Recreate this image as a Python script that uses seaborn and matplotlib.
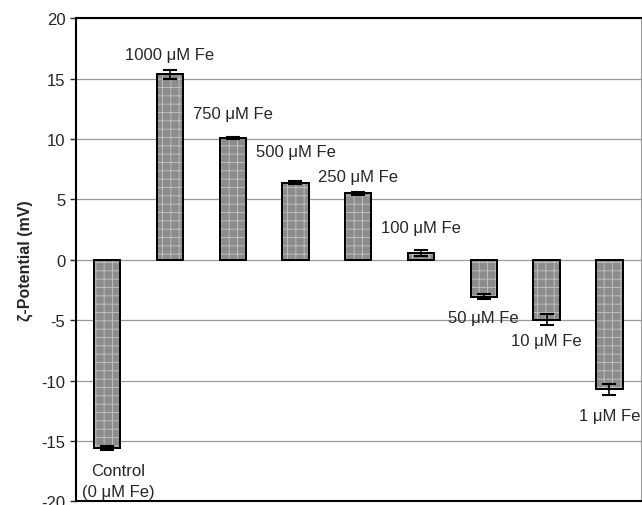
import pandas as pd
import numpy as np
import matplotlib.pyplot as plt
from matplotlib.patches import Rectangle
import seaborn as sns

sns.set_style("white")
plt.rcParams['font.family'] = ['Liberation Sans', 'DejaVu Sans']
plt.rcParams['axes.unicode_minus'] = False
plt.rcParams['hatch.linewidth'] = 0.7

# Data
conditions = ['Control', '1000', '750', '500', '250', '100', '50', '10', '1']
zeta = [-15.6, 15.35, 10.1, 6.4, 5.5, 0.55, -3.05, -4.95, -10.7]
zeta_err = [0.15, 0.35, 0.1, 0.1, 0.1, 0.25, 0.2, 0.45, 0.45]
bar_labels = ['Control\n(0 \u03bcM Fe)', '1000 \u03bcM Fe', '750 \u03bcM Fe', '500 \u03bcM Fe',
              '250 \u03bcM Fe', '100 \u03bcM Fe', '50 \u03bcM Fe', '10 \u03bcM Fe', '1 \u03bcM Fe']

# label placement (data units), set by hand to follow the original
label_dx = [0.18, 0.0, 0.0, 0.0, 0.0, 0.0, 0.0, 0.0, 0.0]
label_y = [-18.3, 17.0, 12.1, 9.0, 6.9, 2.7, -4.8, -6.7, -12.9]

df = pd.DataFrame({'condition': conditions, 'zeta': zeta})

fig = plt.figure(figsize=(6.42, 5.06), dpi=100)
ax = fig.add_axes([0.118, 0.007, 0.880, 0.955])

ax.yaxis.grid(True, color='#9a9a9a', linewidth=0.9)
ax.set_axisbelow(True)

sns.barplot(data=df, x='condition', y='zeta', order=conditions, color='#8c8c8c',
            saturation=1, width=0.42, edgecolor='black', linewidth=1.4, ax=ax)

# light stipple texture on top of each bar (edges stay black)
for p in list(ax.patches):
    tex = Rectangle(p.get_xy(), p.get_width(), p.get_height(), facecolor='none',
                    edgecolor='#bdbdbd', linewidth=0, hatch='++', zorder=p.get_zorder() + 0.1)
    ax.add_patch(tex)
    outline = Rectangle(p.get_xy(), p.get_width(), p.get_height(), facecolor='none',
                        edgecolor='black', linewidth=1.4, zorder=p.get_zorder() + 0.2)
    ax.add_patch(outline)

x = np.arange(len(conditions))
ax.errorbar(x, zeta, yerr=zeta_err, fmt='none', ecolor='black',
            elinewidth=1.2, capsize=5, capthick=1.5, zorder=5)

for i, lab in enumerate(bar_labels):
    ax.text(x[i] + label_dx[i], label_y[i], lab, ha='center', va='center',
            fontsize=12, linespacing=1.45)

ax.set_ylim(-20, 20)
ax.set_xlim(-0.5, len(conditions) - 0.5)
ax.set_yticks(np.arange(-20, 21, 5))
ax.set_xticks([])
ax.set_xlabel('')
ax.set_ylabel('\u03b6-Potential (mV)', fontsize=11.5, fontweight='bold', labelpad=6)
ax.tick_params(axis='y', labelsize=12, direction='out', length=4, left=True, width=1)

for side in ['left', 'top', 'bottom']:
    ax.spines[side].set_color('black')
    ax.spines[side].set_linewidth(1.5)
ax.spines['right'].set_color('#9a9a9a')
ax.spines['right'].set_linewidth(0.8)

plt.savefig('out.png', dpi=100)
